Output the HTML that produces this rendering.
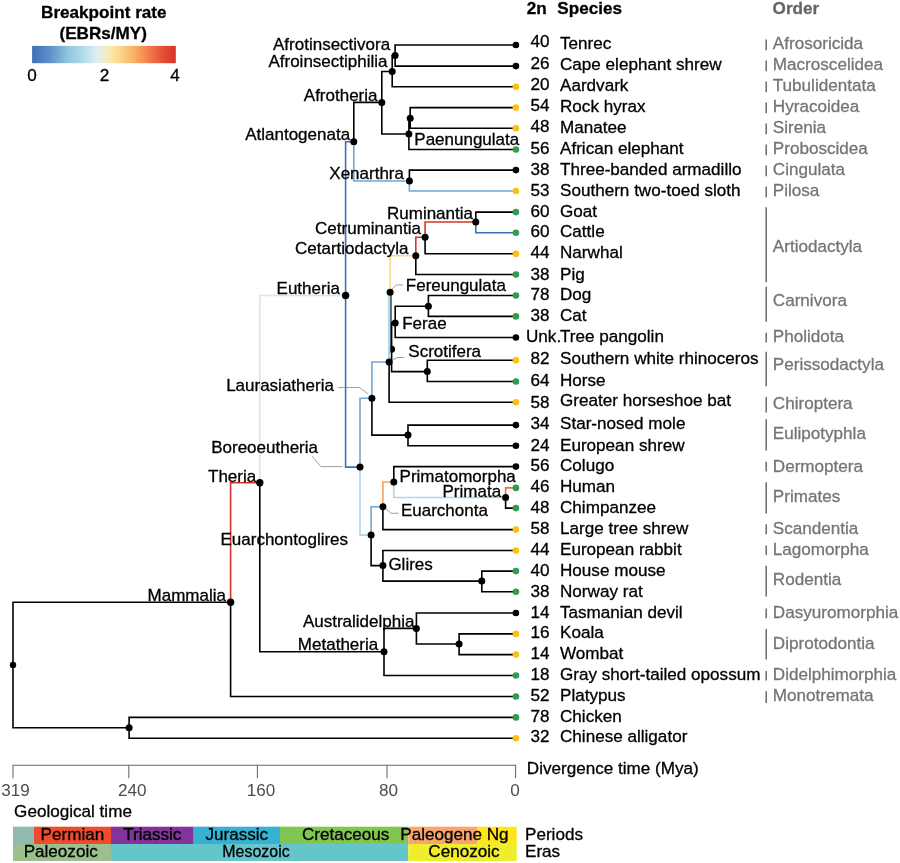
<!DOCTYPE html>
<html lang="en"><head><meta charset="utf-8"><title>Mammalian phylogeny with breakpoint rates</title>
<style>html,body{margin:0;padding:0;background:#fff}svg{display:block}text{stroke-width:0.3px}.k text,text.k{fill:#000;stroke:#000}</style></head>
<body>
<svg width="900" height="863" viewBox="0 0 900 863" font-family="'Liberation Sans', Arial, Helvetica, sans-serif" font-size="17.1" stroke-linejoin="round">
<defs><linearGradient id="g" x1="0" x2="1" y1="0" y2="0"><stop offset="0" stop-color="#3f6fb5"/><stop offset="0.12" stop-color="#5b8fc9"/><stop offset="0.25" stop-color="#92c5e0"/><stop offset="0.36" stop-color="#b5dcea"/><stop offset="0.45" stop-color="#dceef5"/><stop offset="0.52" stop-color="#f3ecc0"/><stop offset="0.58" stop-color="#fde195"/><stop offset="0.70" stop-color="#fbb367"/><stop offset="0.82" stop-color="#f3784a"/><stop offset="0.92" stop-color="#e34a33"/><stop offset="1" stop-color="#d7342b"/></linearGradient></defs>
<rect width="900" height="863" fill="#ffffff"/>
<g font-weight="bold" text-anchor="middle" class="k"><text x="103.8" y="17.5">Breakpoint rate</text><text x="103.2" y="38.8">(EBRs/MY)</text></g>
<rect x="32.1" y="45.9" width="143.7" height="17.3" fill="url(#g)"/>
<g text-anchor="middle" class="k"><text x="32" y="81">0</text><text x="104.5" y="81">2</text><text x="175" y="81">4</text></g>
<g fill="none" stroke-width="1.6" stroke-linejoin="miter" stroke-linecap="butt">
<path d="M230.6 602.2V482.8H259.8" stroke="#d7342b"/>
<path d="M259.8 482.8V295.5H345.6" stroke="#d3e8f3"/>
<path d="M345.6 295.5V141.8H353.8" stroke="#3f6fb5"/>
<path d="M345.6 295.5V467.1H360.0" stroke="#3f6fb5"/>
<path d="M353.8 141.8V181.0H409.4" stroke="#6ea8d6"/>
<path d="M409.4 181.0V191.0H515.9" stroke="#6ea8d6"/>
<path d="M360.0 467.1V398.3H371.9" stroke="#6ea8d6"/>
<path d="M360.0 467.1V535.1H371.1" stroke="#a9d7eb"/>
<path d="M371.9 398.3V362.0H389.1" stroke="#6ea8d6"/>
<path d="M390.1 292.2V255.8H415.8" stroke="#fdd98b"/>
<path d="M415.8 255.8V237.3H425.1" stroke="#d7342b"/>
<path d="M425.1 237.3V222.0H475.8" stroke="#d7342b"/>
<path d="M475.8 222.0V232.7H515.9" stroke="#3f6fb5"/>
<path d="M371.1 535.1V506.7H382.9" stroke="#6ea8d6"/>
<path d="M382.9 506.7V482.0H393.8" stroke="#f6a25b"/>
<path d="M393.8 482.0V497.5H505.6" stroke="#a9d7eb"/>
<path d="M505.6 497.5V487.9H515.9" stroke="#f26b41"/>
<path d="M13.0 664.9V602.2H230.6M13.0 664.9V727.8H129.1M129.1 727.8V717.4H515.9M129.1 727.8V738.2H515.9M230.6 602.2V696.5H515.9M259.8 482.8V651.8H384.0M384.0 651.8V628.4H416.4M384.0 651.8V675.5H515.9M416.4 628.4V613.0H515.9M416.4 628.4V644.0H459.1M459.1 644.0V633.9H515.9M459.1 644.0V654.6H515.9M353.8 141.8V102.4H381.8M381.8 102.4V71.5H392.2M381.8 102.4V134.0H408.9M392.2 71.5V55.5H395.1M392.2 71.5V86.7H515.9M395.1 55.5V45.0H515.9M395.1 55.5V66.1H515.9M408.9 134.0V118.2H410.2M408.9 134.0V149.5H515.9M410.2 118.2V107.6H515.9M410.2 118.2V128.2H515.9M409.4 181.0V170.1H515.9M371.9 398.3V435.1H408.0M408.0 435.1V425.1H515.9M408.0 435.1V445.7H515.9M389.1 362.0V402.3H515.9M415.8 255.8V274.5H515.9M425.1 237.3V253.8H515.9M475.8 222.0V212.1H515.9M391.6 349.2V322.9H395.2M391.6 349.2V371.6H427.3M395.2 322.9V306.2H428.4M395.2 322.9V337.5H515.9M428.4 306.2V295.5H515.9M428.4 306.2V316.4H515.9M427.3 371.6V360.2H515.9M427.3 371.6V381.5H515.9M371.1 535.1V565.6H382.9M382.9 506.7V529.6H515.9M393.8 482.0V466.6H515.9M505.6 497.5V508.1H515.9M382.9 565.6V550.5H515.9M382.9 565.6V581.1H481.8M481.8 581.1V571.1H515.9M481.8 581.1V591.8H515.9" stroke="#000"/>
<path d="M390.9 292.2V349.2" stroke="#000" stroke-width="1.3"/>
</g>
<g fill="none" stroke="#7d7d7d" stroke-width="0.75">
<path d="M338.2 387.5H359.4L368.3 394"/>
<path d="M311.9 456.1L320.9 466.6H342.3"/>
<path d="M392.5 360L397 357.5H404.5"/>
<path d="M392 289L396.5 285H403"/>
<path d="M386 509L391 513.3H398.5"/>
</g>
<circle cx="391.6" cy="349.2" r="3.5" fill="#000"/>
<path d="M389.15 292.2V362" stroke="#a9d7eb" stroke-width="2.3" fill="none"/>
<g fill="#000">
<circle cx="395.1" cy="55.5" r="3.5"/>
<circle cx="392.2" cy="71.5" r="3.5"/>
<circle cx="381.8" cy="102.4" r="3.5"/>
<circle cx="410.2" cy="118.2" r="3.5"/>
<circle cx="408.9" cy="134.0" r="3.5"/>
<circle cx="353.8" cy="141.8" r="3.5"/>
<circle cx="409.4" cy="181.0" r="3.5"/>
<circle cx="475.8" cy="222.0" r="3.5"/>
<circle cx="425.1" cy="237.3" r="3.5"/>
<circle cx="415.8" cy="255.8" r="3.5"/>
<circle cx="390.1" cy="292.2" r="3.5"/>
<circle cx="428.4" cy="306.2" r="3.5"/>
<circle cx="395.2" cy="322.9" r="3.5"/>
<circle cx="389.1" cy="362.0" r="3.5"/>
<circle cx="427.3" cy="371.6" r="3.5"/>
<circle cx="371.9" cy="398.3" r="3.5"/>
<circle cx="408.0" cy="435.1" r="3.5"/>
<circle cx="360.0" cy="467.1" r="3.5"/>
<circle cx="393.8" cy="482.0" r="3.5"/>
<circle cx="505.6" cy="497.5" r="3.5"/>
<circle cx="382.9" cy="506.7" r="3.5"/>
<circle cx="371.1" cy="535.1" r="3.5"/>
<circle cx="382.9" cy="565.6" r="3.5"/>
<circle cx="481.8" cy="581.1" r="3.5"/>
<circle cx="416.4" cy="628.4" r="3.5"/>
<circle cx="459.1" cy="644.0" r="3.5"/>
<circle cx="384.0" cy="651.8" r="3.5"/>
<circle cx="345.6" cy="295.5" r="3.7"/>
<circle cx="259.8" cy="482.8" r="3.7"/>
<circle cx="230.6" cy="602.2" r="3.7"/>
<circle cx="129.1" cy="727.8" r="3.5"/>
<circle cx="13.0" cy="664.9" r="3.2"/>
</g>
<circle cx="515.9" cy="45.0" r="3.3" fill="#000000"/>
<circle cx="515.9" cy="66.1" r="3.3" fill="#000000"/>
<circle cx="515.9" cy="86.7" r="3.3" fill="#fdc010"/>
<circle cx="515.9" cy="107.6" r="3.3" fill="#fdc010"/>
<circle cx="515.9" cy="128.2" r="3.3" fill="#fdc010"/>
<circle cx="515.9" cy="149.5" r="3.3" fill="#2e9e48"/>
<circle cx="515.9" cy="170.1" r="3.3" fill="#000000"/>
<circle cx="515.9" cy="191.0" r="3.3" fill="#fdc010"/>
<circle cx="515.9" cy="212.1" r="3.3" fill="#2e9e48"/>
<circle cx="515.9" cy="232.7" r="3.3" fill="#2e9e48"/>
<circle cx="515.9" cy="253.8" r="3.3" fill="#fdc010"/>
<circle cx="515.9" cy="274.5" r="3.3" fill="#2e9e48"/>
<circle cx="515.9" cy="295.5" r="3.3" fill="#2e9e48"/>
<circle cx="515.9" cy="316.4" r="3.3" fill="#2e9e48"/>
<circle cx="515.9" cy="337.5" r="3.3" fill="#000000"/>
<circle cx="515.9" cy="360.2" r="3.3" fill="#fdc010"/>
<circle cx="515.9" cy="381.5" r="3.3" fill="#2e9e48"/>
<circle cx="515.9" cy="402.3" r="3.3" fill="#fdc010"/>
<circle cx="515.9" cy="425.1" r="3.3" fill="#000000"/>
<circle cx="515.9" cy="445.7" r="3.3" fill="#000000"/>
<circle cx="515.9" cy="466.6" r="3.3" fill="#000000"/>
<circle cx="515.9" cy="487.9" r="3.3" fill="#2e9e48"/>
<circle cx="515.9" cy="508.1" r="3.3" fill="#2e9e48"/>
<circle cx="515.9" cy="529.6" r="3.3" fill="#fdc010"/>
<circle cx="515.9" cy="550.5" r="3.3" fill="#fdc010"/>
<circle cx="515.9" cy="571.1" r="3.3" fill="#2e9e48"/>
<circle cx="515.9" cy="591.8" r="3.3" fill="#2e9e48"/>
<circle cx="515.9" cy="613.0" r="3.3" fill="#000000"/>
<circle cx="515.9" cy="633.9" r="3.3" fill="#fdc010"/>
<circle cx="515.9" cy="654.6" r="3.3" fill="#fdc010"/>
<circle cx="515.9" cy="675.5" r="3.3" fill="#2e9e48"/>
<circle cx="515.9" cy="696.5" r="3.3" fill="#2e9e48"/>
<circle cx="515.9" cy="717.4" r="3.3" fill="#2e9e48"/>
<circle cx="515.9" cy="738.2" r="3.3" fill="#fdc010"/>
<g class="k" font-size="17">
<text x="390.2" y="49.8" text-anchor="end">Afrotinsectivora</text>
<text x="387.5" y="66.7" text-anchor="end">Afroinsectiphilia</text>
<text x="377.5" y="100.8" text-anchor="end">Afrotheria</text>
<text x="350.1" y="139.8" text-anchor="end">Atlantogenata</text>
<text x="414.3" y="145.0" text-anchor="start">Paenungulata</text>
<text x="404.0" y="179.1" text-anchor="end">Xenarthra</text>
<text x="473.0" y="218.9" text-anchor="end">Ruminantia</text>
<text x="420.9" y="234.3" text-anchor="end">Cetruminantia</text>
<text x="408.4" y="254.1" text-anchor="end">Cetartiodactyla</text>
<text x="405.8" y="290.5" text-anchor="start">Fereungulata</text>
<text x="402.2" y="328.9" text-anchor="start">Ferae</text>
<text x="408.3" y="357.1" text-anchor="start">Scrotifera</text>
<text x="339.9" y="294.0" text-anchor="end">Eutheria</text>
<text x="333.9" y="390.6" text-anchor="end">Laurasiatheria</text>
<text x="318.0" y="453.2" text-anchor="end">Boreoeutheria</text>
<text x="256.2" y="482.0" text-anchor="end">Theria</text>
<text x="220.5" y="545.1" text-anchor="start">Euarchontoglires</text>
<text x="226.0" y="600.6" text-anchor="end">Mammalia</text>
<text x="399.6" y="482.0" text-anchor="start">Primatomorpha</text>
<text x="501.1" y="496.9" text-anchor="end">Primata</text>
<text x="400.9" y="515.5" text-anchor="start">Euarchonta</text>
<text x="388.4" y="570.0" text-anchor="start">Glires</text>
<text x="414.4" y="626.8" text-anchor="end">Australidelphia</text>
<text x="378.2" y="649.8" text-anchor="end">Metatheria</text>
</g>
<g font-weight="bold"><text x="526.7" y="14.3" class="k">2n</text><text x="557.3" y="14.3" class="k">Species</text><text x="772.6" y="14.3" fill="#666" stroke="#666">Order</text></g>
<g class="k">
<text x="530.6" y="47.3">40</text>
<text x="560" y="49.4">Tenrec</text>
<text x="530.6" y="68.8">26</text>
<text x="560" y="70.3">Cape elephant shrew</text>
<text x="530.6" y="90.1">20</text>
<text x="560" y="91.1">Aardvark</text>
<text x="530.6" y="111.1">54</text>
<text x="560" y="111.6">Rock hyrax</text>
<text x="530.6" y="131.9">48</text>
<text x="560" y="132.8">Manatee</text>
<text x="530.6" y="153.7">56</text>
<text x="560" y="153.7">African elephant</text>
<text x="530.6" y="174.5">38</text>
<text x="560" y="174.5">Three-banded armadillo</text>
<text x="530.6" y="196.0">53</text>
<text x="560" y="196.0">Southern two-toed sloth</text>
<text x="530.6" y="216.5">60</text>
<text x="560" y="216.5">Goat</text>
<text x="530.6" y="237.3">60</text>
<text x="560" y="237.3">Cattle</text>
<text x="530.6" y="258.2">44</text>
<text x="560" y="258.2">Narwhal</text>
<text x="530.6" y="279.5">38</text>
<text x="560" y="279.5">Pig</text>
<text x="530.6" y="299.9">78</text>
<text x="560" y="299.9">Dog</text>
<text x="530.6" y="320.8">38</text>
<text x="560" y="320.8">Cat</text>
<text x="526" y="342.0">Unk.</text>
<text x="560" y="342.0">Tree pangolin</text>
<text x="530.6" y="364.1">82</text>
<text x="560" y="364.4">Southern white rhinoceros</text>
<text x="530.6" y="385.8">64</text>
<text x="560" y="385.8">Horse</text>
<text x="530.6" y="407.7">58</text>
<text x="560" y="405.7">Greater horseshoe bat</text>
<text x="530.6" y="429.0">34</text>
<text x="560" y="429.0">Star-nosed mole</text>
<text x="530.6" y="450.5">24</text>
<text x="560" y="450.5">European shrew</text>
<text x="530.6" y="471.4">56</text>
<text x="560" y="471.4">Colugo</text>
<text x="530.6" y="492.2">46</text>
<text x="560" y="492.2">Human</text>
<text x="530.6" y="513.1">48</text>
<text x="560" y="513.1">Chimpanzee</text>
<text x="530.6" y="533.9">58</text>
<text x="560" y="533.9">Large tree shrew</text>
<text x="530.6" y="554.8">44</text>
<text x="560" y="554.8">European rabbit</text>
<text x="530.6" y="575.5">40</text>
<text x="560" y="575.5">House mouse</text>
<text x="530.6" y="596.7">38</text>
<text x="560" y="596.7">Norway rat</text>
<text x="530.6" y="617.6">14</text>
<text x="560" y="617.6">Tasmanian devil</text>
<text x="530.6" y="638.3">16</text>
<text x="560" y="638.3">Koala</text>
<text x="530.6" y="659.4">14</text>
<text x="560" y="659.4">Wombat</text>
<text x="530.6" y="680.1">18</text>
<text x="560" y="680.1">Gray short-tailed opossum</text>
<text x="530.6" y="700.8">52</text>
<text x="560" y="700.8">Platypus</text>
<text x="530.6" y="722.0">78</text>
<text x="560" y="722.0">Chicken</text>
<text x="530.6" y="742.2">32</text>
<text x="560" y="742.2">Chinese alligator</text>
</g>
<g fill="#757575" stroke="#757575">
<text x="772.8" y="48.9">Afrosoricida</text>
<text x="772.8" y="69.9">Macroscelidea</text>
<text x="772.8" y="90.9">Tubulidentata</text>
<text x="772.8" y="111.9">Hyracoidea</text>
<text x="772.8" y="132.9">Sirenia</text>
<text x="772.8" y="153.9">Proboscidea</text>
<text x="772.8" y="174.9">Cingulata</text>
<text x="772.8" y="196.2">Pilosa</text>
<text x="772.8" y="252.4">Artiodactyla</text>
<text x="772.8" y="306.4">Carnivora</text>
<text x="772.8" y="341.6">Pholidota</text>
<text x="772.8" y="370.1">Perissodactyla</text>
<text x="772.8" y="408.8">Chiroptera</text>
<text x="772.8" y="438.9">Eulipotyphla</text>
<text x="772.8" y="471.5">Dermoptera</text>
<text x="772.8" y="501.8">Primates</text>
<text x="772.8" y="533.9">Scandentia</text>
<text x="772.8" y="554.8">Lagomorpha</text>
<text x="772.8" y="585.4">Rodentia</text>
<text x="772.8" y="618.0">Dasyuromorphia</text>
<text x="772.8" y="648.5">Diprotodontia</text>
<text x="772.8" y="679.9">Didelphimorphia</text>
<text x="772.8" y="700.8">Monotremata</text>
</g>
<path d="M766.2 39.5V50.2M766.2 60.5V71.2M766.2 81.5V92.2M766.2 102.5V113.2M766.2 123.5V134.2M766.2 144.5V155.2M766.2 165.5V176.2M766.2 186.5V197.2M766.2 207.3V282.2M766.2 286.8V321.7M766.2 332.7V342.4M766.2 351.8V386.2M766.2 397.1V412.4M766.2 419.3V450.6M766.2 461.8V471.5M766.2 482.2V513.6M766.2 524.3V534.2M766.2 545.4V555.1M766.2 565.8V596.5M766.2 608.5V618.2M766.2 628.9V659.5M766.2 671.0V680.6M766.2 691.3V703.0" stroke="#646464" stroke-width="1.45" fill="none"/>
<path d="M12.5 765.2H516.1M13.0 765V778.2M128.8 765V778.2M257.4 765V778.2M387.0 765V778.2M515.6 765V778.2" stroke="#676767" stroke-width="1.05" fill="none"/>
<g fill="#4d4d4d" text-anchor="middle">
<text x="15.5" y="795.5">319</text>
<text x="132.3" y="795.5">240</text>
<text x="260.9" y="795.5">160</text>
<text x="388.5" y="795.5">80</text>
<text x="515.1" y="795.5">0</text>
</g>
<text x="526.8" y="774" class="k">Divergence time (Mya)</text>
<text x="14.1" y="817.0" class="k">Geological time</text>
<rect x="13.0" y="826.7" width="20.8" height="17.5" fill="#8fbcae"/>
<rect x="33.8" y="826.7" width="77.2" height="17.5" fill="#ef4b2c"/>
<rect x="111.0" y="826.7" width="82.7" height="17.5" fill="#83339a"/>
<rect x="193.7" y="826.7" width="86.3" height="17.5" fill="#34b1d3"/>
<rect x="280.0" y="826.7" width="128.3" height="17.5" fill="#80c650"/>
<rect x="408.3" y="826.7" width="69.0" height="17.5" fill="#f9a56b"/>
<rect x="477.3" y="826.7" width="39.4" height="17.5" fill="#ffe51a"/>
<rect x="13.0" y="844" width="98.0" height="17" fill="#9bc08e"/>
<rect x="111.0" y="844" width="297.3" height="17" fill="#66c4cb"/>
<rect x="408.3" y="844" width="108.4" height="17" fill="#f0ee2c"/>
<g class="k" text-anchor="middle">
<text x="72.4" y="839.9">Permian</text>
<text x="152.3" y="839.9">Triassic</text>
<text x="236.8" y="839.9">Jurassic</text>
<text x="345.6" y="839.9">Cretaceous</text>
<text x="441.2" y="839.9">Paleogene</text>
<text x="497.7" y="839.9">Ng</text>
<text x="60.7" y="857.4">Paleozoic</text>
<text x="256" y="857.4" textLength="67.3" lengthAdjust="spacingAndGlyphs">Mesozoic</text>
<text x="464.0" y="857.4">Cenozoic</text>
</g>
<text x="525" y="839.9" class="k">Periods</text><text x="525" y="857.4" class="k">Eras</text>
</svg>
</body></html>
